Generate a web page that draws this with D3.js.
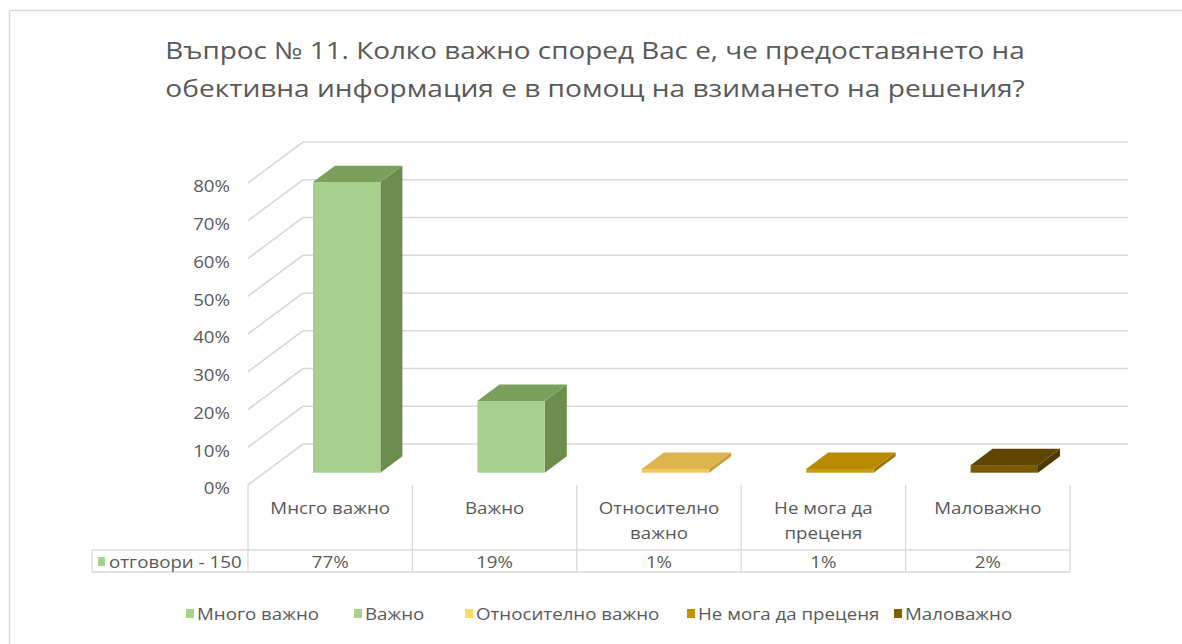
<!DOCTYPE html>
<html>
<head>
<meta charset="utf-8">
<script src="https://cdn.jsdelivr.net/npm/d3@7"></script>
<style>
  html, body { margin: 0; padding: 0; background: #fff; }
  svg { display: block; }
  text { font-family: "Open Sans", "DejaVu Sans", sans-serif; fill: #595959; }
</style>
</head>
<body>
<svg id="chart" width="1182" height="644"></svg>
<script>
// ---- data ----
const titleLines = [
  "Въпрос № 11. Колко важно според Вас е, че предоставянето на",
  "обективна информация е в помощ на взимането на решения?"
];
const categories = ["Мнсго важно", "Важно", "Относително важно", "Не мога да преценя", "Маловажно"];
const seriesNames = ["Много важно", "Важно", "Относително важно", "Не мога да преценя", "Маловажно"];
const values = [0.77, 0.19, 0.01, 0.01, 0.02];
const valueLabels = ["77%", "19%", "1%", "1%", "2%"];
const rowLabel = "отговори - 150";
const ticks = [0, 0.1, 0.2, 0.3, 0.4, 0.5, 0.6, 0.7, 0.8];

// ---- styling ----
const legendColors = ["#A9D18E", "#A9D18E", "#FFD966", "#BF9000", "#7F6000"];
const frontColors  = ["#A8D08D", "#A8D08D", "#F2C85C", "#C99A10", "#7A5A00"];
const topColors    = ["#7BA05C", "#7BA05C", "#DDB44E", "#B88A00", "#5E4600"];
const sideColors   = ["#6B8E4E", "#6B8E4E", "#C89B35", "#9A7400", "#4E3A00"];
const textStretch = 1.17;
const fontSize = 16;
const gridColor = "#D9D9D9";

const svg = d3.select("#chart");

// outer chart frame
svg.append("rect").attr("x", 9.5).attr("y", 10.5).attr("width", 1240).attr("height", 700)
  .attr("fill", "#fff").attr("stroke", "#D9D9D9").attr("stroke-width", 1.5);

// text helper: places text at (x,y) and stretches it horizontally
function label(g, x, y, str, size, anchor) {
  return g.append("text")
    .attr("transform", `translate(${x},${y}) scale(${textStretch},1)`)
    .attr("text-anchor", anchor || "middle")
    .attr("dominant-baseline", "central")
    .style("font-size", size + "px")
    .text(str);
}

// ---- geometry ----
const floorLeft = 248, floorRight = 1070;
const depthX = 55, depthY = 41;
const x = d3.scaleBand().domain(categories).range([floorLeft, floorRight]).paddingInner(0).paddingOuter(0);
const y = d3.scaleLinear().domain([0, 0.8]).range([485, 183]);
const barFrac = 0.41, d0 = 0.3, d1 = 0.7;

// ---- title ----
const titleG = svg.append("g");
titleLines.forEach((t, i) => {
  const el = titleG.append("text")
    .attr("x", 0).attr("y", 0)
    .attr("text-anchor", "middle").attr("dominant-baseline", "central")
    .style("font-size", "23.5px").text(t);
  const w = el.node().getComputedTextLength();
  const target = 860;
  el.attr("transform", `translate(${595},${50 + i * 38}) scale(${target / w},1)`);
});

// ---- walls: back gridlines and side-wall diagonals ----
const grid = svg.append("g").attr("stroke", gridColor).attr("stroke-width", 1.6).attr("fill", "none");
grid.selectAll("line.back").data(ticks).join("line")
  .attr("x1", floorLeft + depthX).attr("x2", floorRight + depthX + 3)
  .attr("y1", d => y(d) - depthY).attr("y2", d => y(d) - depthY);
grid.selectAll("line.side").data(ticks).join("line")
  .attr("x1", floorLeft).attr("y1", d => y(d))
  .attr("x2", floorLeft + depthX).attr("y2", d => y(d) - depthY);

// tick labels
const tickG = svg.append("g");
ticks.forEach(t => label(tickG, 230, y(t) + 3, d3.format(".0%")(t), fontSize, "end"));

// ---- 3D bars ----
const bars = svg.append("g");
categories.forEach((c, i) => {
  const bw = x.bandwidth() * barFrac;
  const fx = x(c) + (x.bandwidth() - bw) / 2 + d0 * depthX;
  const ox = (d1 - d0) * depthX, oy = (d1 - d0) * depthY;
  const yTop = y(values[i]) - d0 * depthY;
  const yBot = y(0) - d0 * depthY;
  // side face
  bars.append("path")
    .attr("d", `M${fx + bw},${yTop} L${fx + bw + ox},${yTop - oy} L${fx + bw + ox},${yBot - oy} L${fx + bw},${yBot} Z`)
    .attr("fill", sideColors[i]);
  // front face
  bars.append("rect")
    .attr("x", fx).attr("y", yTop).attr("width", bw).attr("height", yBot - yTop)
    .attr("fill", frontColors[i]);
  // top face
  bars.append("path")
    .attr("d", `M${fx},${yTop} L${fx + bw},${yTop} L${fx + bw + ox},${yTop - oy} L${fx + ox},${yTop - oy} Z`)
    .attr("fill", topColors[i]);
});

// ---- data table ----
const table = svg.append("g");
const tTop = 485, tMid = 550, tBot = 572, tLeft = 92;
const tableLines = table.append("g").attr("stroke", gridColor).attr("stroke-width", 1.3);
d3.range(categories.length + 1).forEach(k => {
  const xx = floorLeft + k * x.step();
  tableLines.append("line").attr("x1", xx).attr("x2", xx).attr("y1", tTop).attr("y2", tBot);
});
tableLines.append("line").attr("x1", tLeft).attr("x2", floorRight).attr("y1", tMid).attr("y2", tMid);
tableLines.append("line").attr("x1", tLeft).attr("x2", floorRight).attr("y1", tBot).attr("y2", tBot);
tableLines.append("line").attr("x1", tLeft).attr("x2", tLeft).attr("y1", tMid).attr("y2", tBot);

// category headers, wrapped to the column width
function wrapWords(str, maxW, size) {
  const probe = svg.append("text").style("font-size", size + "px");
  const words = str.split(" ");
  const lines = [];
  let cur = "";
  words.forEach(wd => {
    const test = cur ? cur + " " + wd : wd;
    probe.text(test);
    if (probe.node().getComputedTextLength() * textStretch > maxW && cur) {
      lines.push(cur); cur = wd;
    } else cur = test;
  });
  if (cur) lines.push(cur);
  probe.remove();
  return lines;
}
categories.forEach((c, i) => {
  const cx = x(c) + x.bandwidth() / 2;
  const lines = wrapWords(c, 140, fontSize);
  lines.forEach((ln, j) => label(table, cx, 508 + j * 25, ln, fontSize));
  label(table, cx, 561.5, valueLabels[i], fontSize);
});
table.append("rect").attr("x", 98).attr("y", 557).attr("width", 7).attr("height", 9).attr("fill", legendColors[0]);
label(table, 109, 561.5, rowLabel, fontSize, "start");

// ---- legend ----
const legend = svg.append("g");
const legendX = [186, 354, 465, 687, 894];
seriesNames.forEach((s, i) => {
  legend.append("rect").attr("x", legendX[i]).attr("y", 609).attr("width", 8).attr("height", 9).attr("fill", legendColors[i]);
  label(legend, legendX[i] + 11, 613.5, s, fontSize, "start");
});
</script>
</body>
</html>
